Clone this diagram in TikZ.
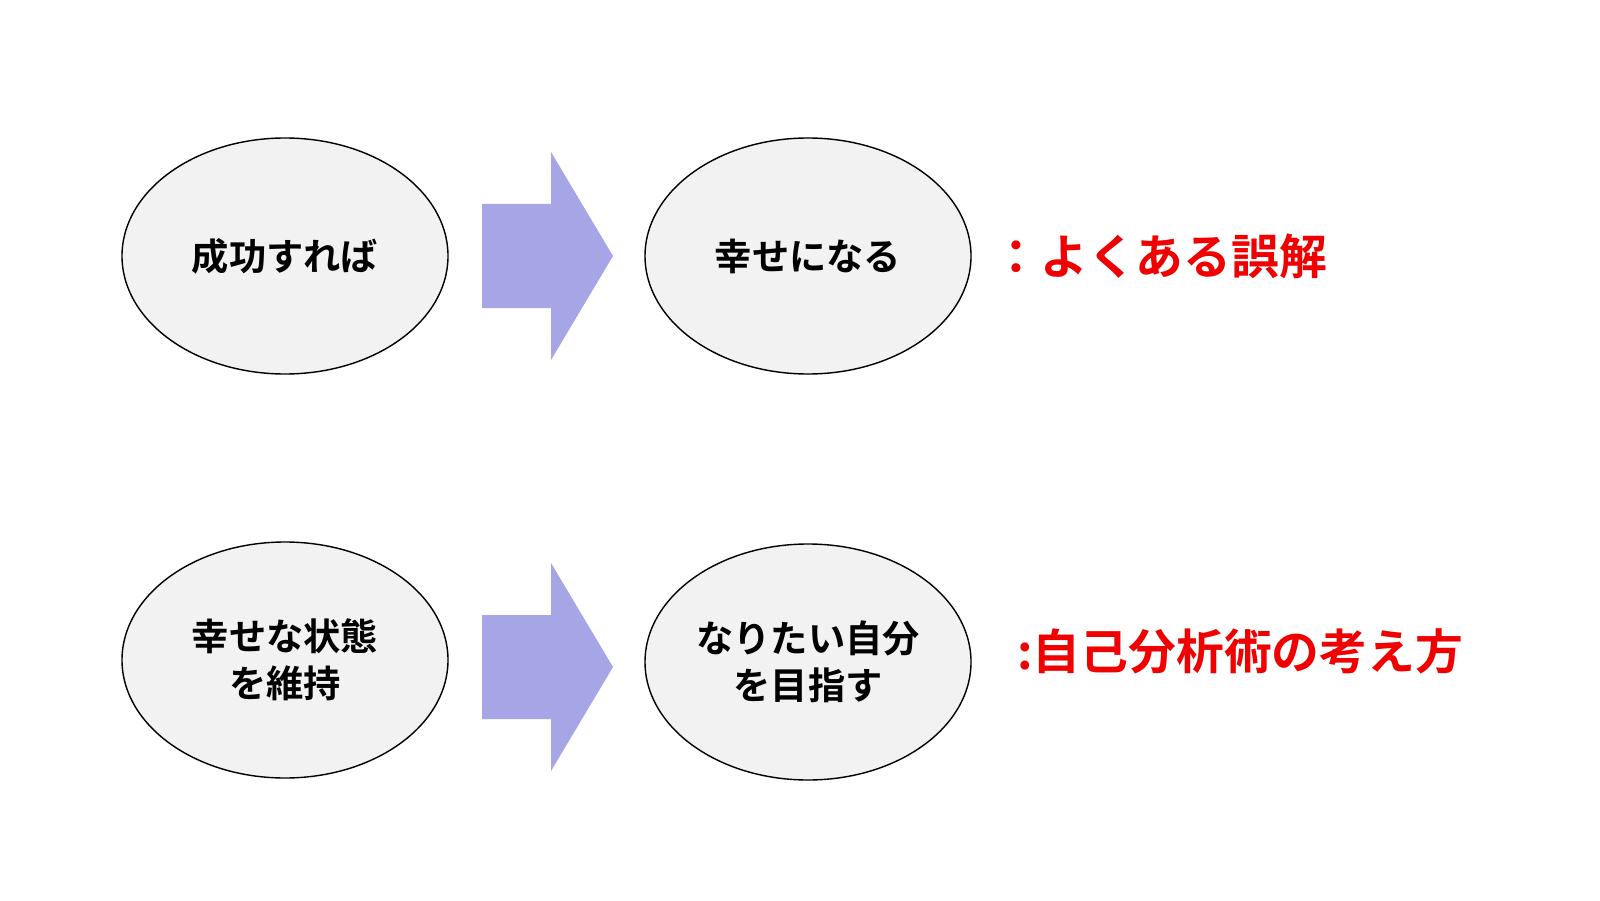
\documentclass[tikz,border=0pt]{standalone}
\usepackage{fontspec}
\setmainfont{Noto Sans CJK JP}[BoldFont={Noto Sans CJK JP Bold}]
\usetikzlibrary{shapes.geometric,positioning,calc}
\definecolor{ovalgray}{RGB}{242,242,242}
\definecolor{arrowblue}{RGB}{166,166,230}
\definecolor{notered}{RGB}{240,0,0}
\tikzset{
  oval/.style={ellipse,draw=black,line width=0.4pt,fill=ovalgray,minimum width=3.26cm,minimum height=2.36cm,inner sep=0pt,align=center,font=\bfseries\fontsize{10.6pt}{13.5pt}\selectfont},
  note/.style={right,text=notered,font=\bfseries\fontsize{13.6pt}{16pt}\selectfont}
}
\newcommand{\fatarrow}[1]{%
  \fill[arrowblue] ($(#1)+(-0.68,0.52)$) -- ++(0.69,0) -- ++(0,0.52) -- ($(#1)+(0.63,0)$)
    -- ($(#1)+(0.01,-1.04)$) -- ++(0,0.52) -- ++(-0.69,0) -- cycle;}
\begin{document}
\begin{tikzpicture}
  \useasboundingbox[fill=white] (0,0) rectangle (16,9);

  % Top row
  \node[oval] (success) at (2.85,6.44) {成功すれば};
  \coordinate (arrowtop) at (5.5,6.44);
  \fatarrow{arrowtop}
  \node[oval] (happy) at (8.08,6.44) {幸せになる};
  \node[note] (mistake) at (9.8,6.44) {：よくある誤解};

  % Bottom row
  \node[oval] (keep) at (2.85,2.40) {幸せな状態\\を維持};
  \coordinate (arrowbot) at (5.5,2.33);
  \fatarrow{arrowbot}
  \node[oval] (goal) at (8.08,2.38) {なりたい自分\\を目指す};
  \node[note] (method) at (10.05,2.49) {:自己分析術の考え方};
\end{tikzpicture}
\end{document}
